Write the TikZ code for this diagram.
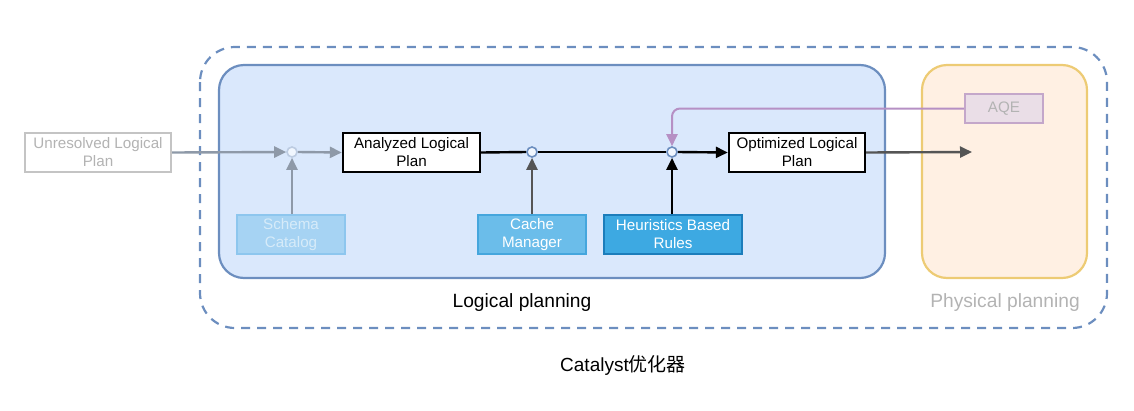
\documentclass[tikz,border=0pt]{standalone}
\usepackage{fontspec}
\setmainfont{Liberation Sans}
\newfontfamily\cjk{Noto Sans CJK SC}
\usetikzlibrary{arrows.meta}
\definecolor{lpfill}{HTML}{DAE8FC}
\definecolor{lpdraw}{HTML}{6C8EBF}
\definecolor{ppfill}{HTML}{FFF0E3}
\definecolor{ppdraw}{HTML}{EDCB74}
\definecolor{fadetext}{HTML}{B3B3B3}
\definecolor{fadedraw}{HTML}{C4C4C4}
\definecolor{schfill}{HTML}{A6D3F3}
\definecolor{schdraw}{HTML}{8DC6EE}
\definecolor{schtext}{HTML}{D6EBF9}
\definecolor{cmfill}{HTML}{6BBDEA}
\definecolor{cmdraw}{HTML}{45A6DD}
\definecolor{hrfill}{HTML}{3DA9E2}
\definecolor{hrdraw}{HTML}{1C7DBB}
\definecolor{aqefill}{HTML}{EADEE7}
\definecolor{aqedraw}{HTML}{C4A7CA}
\definecolor{aqeline}{HTML}{B690C4}
\definecolor{darkline}{HTML}{555555}
\definecolor{greyline}{HTML}{8E99A8}
\tikzset{
  box/.style={rectangle, minimum width=#1, minimum height=39pt, inner sep=0pt, align=center,
    font=\fontsize{15.2}{18}\selectfont},
  plan/.style={box=137pt, draw=black, line width=2.4pt, fill=white},
  junc/.style={circle, minimum size=10pt, inner sep=0pt, draw=lpdraw, line width=1.6pt, fill=lpfill!40},
  arr/.style={-{Triangle[length=12pt,width=11pt]}, line width=2.4pt},
}
\begin{document}
\begin{tikzpicture}[x=1pt,y=-1pt]
\useasboundingbox (0,0) rectangle (1134,410);
% containers
\draw[lpdraw, line width=2.2pt, dashed, dash pattern=on 9pt off 7pt, rounded corners=35pt] (200,47) rectangle (1107,328);
\draw[lpdraw, fill=lpfill, line width=2.2pt, rounded corners=25pt] (219,65) rectangle (885,278);
\draw[ppdraw, fill=ppfill, line width=2.2pt, rounded corners=25pt] (922,65) rectangle (1087,278);
\node[font=\fontsize{19.2}{22}\selectfont] (lp) at (522,303) {Logical planning};
\node[font=\fontsize{19.2}{22}\selectfont, text=fadetext] (pp) at (1005,303) {Physical planning};
\node[font=\fontsize{19}{22}\selectfont] (cat) at (623,365) {Catalyst{\cjk 优化器}};
% boxes
\node[box=146pt, draw=fadedraw, line width=2.2pt, text=fadetext, fill=white] (unres) at (98,152.5) {Unresolved Logical\\Plan};
\node[plan] (ana) at (411.5,152.5) {Analyzed Logical\\Plan};
\node[plan, minimum width=136pt] (opt) at (797,152.5) {Optimized Logical\\Plan};
\node[box=108pt, draw=schdraw, fill=schfill, line width=2.2pt, text=schtext] (sch) at (291,234.5) {Schema\\Catalog};
\node[box=108pt, draw=cmdraw, fill=cmfill, line width=2.2pt, text=white] (cm) at (532,234.5) {Cache\\Manager};
\node[box=138pt, draw=hrdraw, fill=hrfill, line width=2.2pt, text=white] (hr) at (673,234.5) {Heuristics Based\\Rules};
\node[box=78pt, minimum height=29pt, draw=aqedraw, fill=aqefill, line width=2.2pt, text=fadetext] (aqe) at (1004,108.5) {AQE};
\coordinate (phys) at (972,152);
% junctions
\node[junc, draw=lpdraw!45] (j1) at (292,152) {};
\node[junc] (j2) at (532,152) {};
\node[junc] (j3) at (672,152) {};
% connectors
\draw[arr, greyline] (unres.east) -- (j1.west);
\draw[arr, greyline] (j1.east) -- (ana.west);
\draw[arr, greyline] (sch.north -| j1) -- (j1.south);
\draw[line width=2.4pt] (ana.east) -- (j2.west);
\draw[line width=2.4pt] (j2.east) -- (j3.west);
\draw[arr] (j3.east) -- (opt.west);
\draw[arr, darkline] (cm.north -| j2) -- (j2.south);
\draw[arr] (hr.north -| j3) -- (j3.south);
\draw[arr, aqeline, line width=2pt, rounded corners=8pt] (aqe.west) -| (j3.north);
\draw[arr, darkline] (opt.east) -- (phys);
\end{tikzpicture}
\end{document}
